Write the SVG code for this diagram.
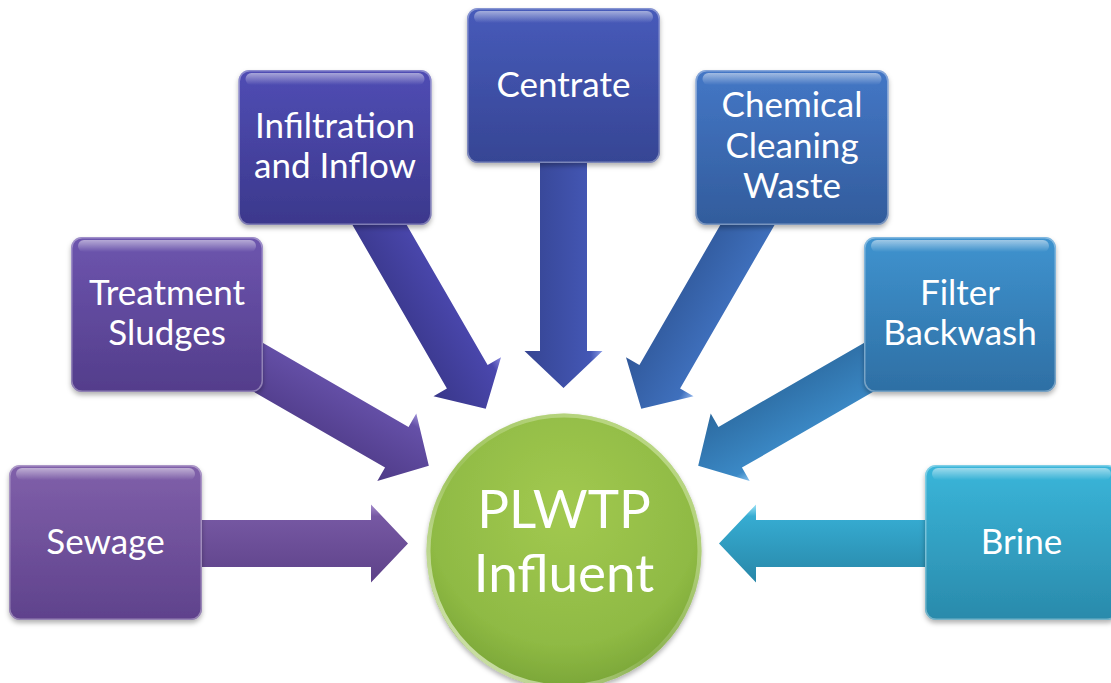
<svg xmlns="http://www.w3.org/2000/svg" width="1111" height="683" viewBox="0 0 1111 683">
<defs>
<style>
.t{fill:#fff;font-family:Lato,"Liberation Sans",sans-serif;font-size:35px;text-anchor:middle}
.big{font-size:53px}
.hl{fill:url(#hi)}
.rim{fill:none;stroke:#fff;stroke-opacity:0.35;stroke-width:1.5}
</style>
<filter id="sh" x="-10%" y="-10%" width="120%" height="125%"><feDropShadow dx="0" dy="3" stdDeviation="2.5" flood-color="#000" flood-opacity="0.3"/></filter>
<linearGradient id="hi" x1="0" y1="0" x2="0" y2="1"><stop offset="0" stop-color="#fff" stop-opacity="0.5"/><stop offset="1" stop-color="#fff" stop-opacity="0"/></linearGradient>
<linearGradient id="b0" x1="0" y1="0" x2="0" y2="1"><stop offset="0" stop-color="#8060aa"/><stop offset="1" stop-color="#5f428c"/></linearGradient>
<linearGradient id="b1" x1="0" y1="0" x2="0" y2="1"><stop offset="0" stop-color="#6d55ae"/><stop offset="1" stop-color="#533d8b"/></linearGradient>
<linearGradient id="b2" x1="0" y1="0" x2="0" y2="1"><stop offset="0" stop-color="#504db4"/><stop offset="1" stop-color="#3b388c"/></linearGradient>
<linearGradient id="b3" x1="0" y1="0" x2="0" y2="1"><stop offset="0" stop-color="#475bba"/><stop offset="1" stop-color="#364594"/></linearGradient>
<linearGradient id="b4" x1="0" y1="0" x2="0" y2="1"><stop offset="0" stop-color="#4477c6"/><stop offset="1" stop-color="#325c9c"/></linearGradient>
<linearGradient id="b5" x1="0" y1="0" x2="0" y2="1"><stop offset="0" stop-color="#3f93cf"/><stop offset="1" stop-color="#2e6fa4"/></linearGradient>
<linearGradient id="b6" x1="0" y1="0" x2="0" y2="1"><stop offset="0" stop-color="#3ab6da"/><stop offset="1" stop-color="#2a8aab"/></linearGradient>
<linearGradient id="a0" x1="0" y1="0" x2="0" y2="1"><stop offset="0" stop-color="#a58ccc"/><stop offset="0.15" stop-color="#7658a3"/><stop offset="1" stop-color="#5e4289"/></linearGradient>
<linearGradient id="a1" x1="0" y1="0" x2="0" y2="1"><stop offset="0" stop-color="#9b8ed6"/><stop offset="0.15" stop-color="#6550a8"/><stop offset="1" stop-color="#4f3b88"/></linearGradient>
<linearGradient id="a2" x1="0" y1="0" x2="0" y2="1"><stop offset="0" stop-color="#8c8ce0"/><stop offset="0.15" stop-color="#4a47ad"/><stop offset="1" stop-color="#39378a"/></linearGradient>
<linearGradient id="a3" x1="0" y1="0" x2="0" y2="1"><stop offset="0" stop-color="#8a9ce6"/><stop offset="0.15" stop-color="#4457b5"/><stop offset="1" stop-color="#354492"/></linearGradient>
<linearGradient id="a4" x1="0" y1="0" x2="0" y2="1"><stop offset="0" stop-color="#8fb4ec"/><stop offset="0.15" stop-color="#3f70bd"/><stop offset="1" stop-color="#30589a"/></linearGradient>
<linearGradient id="a5" x1="0" y1="0" x2="0" y2="1"><stop offset="0" stop-color="#8ac4f0"/><stop offset="0.15" stop-color="#3b89c6"/><stop offset="1" stop-color="#2c6aa0"/></linearGradient>
<linearGradient id="a6" x1="0" y1="1" x2="0" y2="0"><stop offset="0" stop-color="#9de2f6"/><stop offset="0.15" stop-color="#36acd2"/><stop offset="1" stop-color="#2887a8"/></linearGradient>
<radialGradient id="gc" cx="0.5" cy="0.35" r="0.7"><stop offset="0" stop-color="#a2c950"/><stop offset="0.7" stop-color="#8fba44"/><stop offset="1" stop-color="#74a034"/></radialGradient>
<linearGradient id="gr" x1="0" y1="1" x2="1" y2="0"><stop offset="0" stop-color="#eaf7c8" stop-opacity="0.9"/><stop offset="0.45" stop-color="#fff" stop-opacity="0.1"/><stop offset="1" stop-color="#d9eeb0" stop-opacity="0.6"/></linearGradient>
<path id="arr" d="M -300 -23.5 L -37 -23.5 L -37 -39 L 0 0 L -37 39 L -37 23.5 L -300 23.5 Z"/>
</defs>
<rect width="1111" height="683" fill="#fff"/>

<g id="connectors">
<use href="#arr" fill="url(#a0)" transform="translate(563.5 543.5) rotate(0) translate(-155.5 0)"/>
<use href="#arr" fill="url(#a1)" transform="translate(563.5 543.5) rotate(30) translate(-155.5 0)"/>
<use href="#arr" fill="url(#a2)" transform="translate(563.5 543.5) rotate(60) translate(-155.5 0)"/>
<use href="#arr" fill="url(#a3)" transform="translate(563.5 543.5) rotate(90) translate(-155.5 0)"/>
<use href="#arr" fill="url(#a4)" transform="translate(563.5 543.5) rotate(120) translate(-155.5 0)"/>
<use href="#arr" fill="url(#a5)" transform="translate(563.5 543.5) rotate(150) translate(-155.5 0)"/>
<use href="#arr" fill="url(#a6)" transform="translate(563.5 543.5) rotate(180) translate(-155.5 0)"/>
</g>

<g id="sewage">
<rect x="9" y="465" width="193" height="155" rx="11" fill="url(#b0)" filter="url(#sh)"/>
<rect x="16" y="468" width="179" height="12" rx="6" class="hl"/>
<rect x="9.75" y="465.75" width="191.5" height="153.5" rx="10.5" class="rim"/>
<text x="105.5" y="554" class="t">Sewage</text>
</g>

<g id="treatment-sludges">
<rect x="71" y="237" width="192" height="155" rx="11" fill="url(#b1)" filter="url(#sh)"/>
<rect x="78" y="240" width="178" height="12" rx="6" class="hl"/>
<rect x="71.75" y="237.75" width="190.5" height="153.5" rx="10.5" class="rim"/>
<text x="167" y="305" class="t">Treatment</text>
<text x="167" y="345" class="t">Sludges</text>
</g>

<g id="infiltration-inflow">
<rect x="238.5" y="70" width="193" height="155" rx="11" fill="url(#b2)" filter="url(#sh)"/>
<rect x="245.5" y="73" width="179" height="12" rx="6" class="hl"/>
<rect x="239.25" y="70.75" width="191.5" height="153.5" rx="10.5" class="rim"/>
<text x="335" y="138" class="t">Infiltration</text>
<text x="335" y="178" class="t">and Inflow</text>
</g>

<g id="centrate">
<rect x="467" y="8" width="193" height="155" rx="11" fill="url(#b3)" filter="url(#sh)"/>
<rect x="474" y="11" width="179" height="12" rx="6" class="hl"/>
<rect x="467.75" y="8.75" width="191.5" height="153.5" rx="10.5" class="rim"/>
<text x="563.5" y="97" class="t">Centrate</text>
</g>

<g id="chemical-cleaning-waste">
<rect x="695.5" y="70" width="193" height="155" rx="11" fill="url(#b4)" filter="url(#sh)"/>
<rect x="702.5" y="73" width="179" height="12" rx="6" class="hl"/>
<rect x="696.25" y="70.75" width="191.5" height="153.5" rx="10.5" class="rim"/>
<text x="792" y="117" class="t">Chemical</text>
<text x="792" y="158" class="t">Cleaning</text>
<text x="792" y="198" class="t">Waste</text>
</g>

<g id="filter-backwash">
<rect x="864" y="237" width="192" height="155" rx="11" fill="url(#b5)" filter="url(#sh)"/>
<rect x="871" y="240" width="178" height="12" rx="6" class="hl"/>
<rect x="864.75" y="237.75" width="190.5" height="153.5" rx="10.5" class="rim"/>
<text x="960" y="305" class="t">Filter</text>
<text x="960" y="345" class="t">Backwash</text>
</g>

<g id="brine">
<rect x="925" y="465" width="193" height="155" rx="11" fill="url(#b6)" filter="url(#sh)"/>
<rect x="932" y="468" width="179" height="12" rx="6" class="hl"/>
<rect x="925.75" y="465.75" width="191.5" height="153.5" rx="10.5" class="rim"/>
<text x="1021.5" y="554" class="t">Brine</text>
</g>

<g id="plwtp-influent">
<circle cx="564" cy="551" r="137.5" fill="url(#gc)" filter="url(#sh)"/>
<circle cx="564" cy="551" r="135.5" fill="none" stroke="url(#gr)" stroke-width="4"/>
<text x="564" y="528" class="t big">PLWTP</text>
<text x="564" y="592" class="t big">Influent</text>
</g>
</svg>
